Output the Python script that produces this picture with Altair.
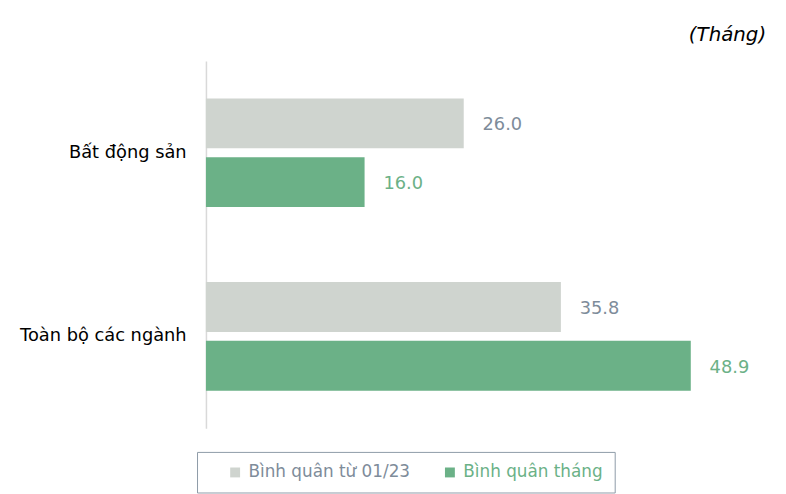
import altair as alt
import pandas as pd

categories = ["Bất động sản", "Toàn bộ các ngành"]
series = ["Bình quân từ 01/23", "Bình quân tháng"]
values_since_0123 = [26.0, 35.8]
values_month = [16.0, 48.9]
colors = ["#cfd4cf", "#6bb187"]
label_colors = ["#7e8c9a", "#6bb187"]

rows = []
for i, c in enumerate(categories):
    rows.append({"cat": c, "series": series[0], "value": values_since_0123[i], "lc": label_colors[0]})
    rows.append({"cat": c, "series": series[1], "value": values_month[i], "lc": label_colors[1]})
df = pd.DataFrame(rows)

FONT = "DejaVu Sans"

y = alt.Y("cat:N", sort=categories, title=None,
          scale=alt.Scale(paddingInner=0.408, paddingOuter=0.204),
          axis=alt.Axis(labelFontSize=18, labelColor="#000000", labelFont=FONT,
                        labelPadding=20, ticks=False, domainColor="#d9d9d9",
                        domainWidth=1.5, labelLimit=300))
yoff = alt.YOffset("series:N", sort=series,
                   scale=alt.Scale(paddingInner=0.1525, paddingOuter=0))
x = alt.X("value:Q", scale=alt.Scale(domain=[0, 55.8]), axis=None)

legend_fill = ("datum.label == '" + series[1] + "' ? '" + label_colors[1] + "' : '" + label_colors[0] + "'")

bars = alt.Chart(df).mark_bar().encode(
    y=y, yOffset=yoff, x=x,
    color=alt.Color("series:N", sort=series,
                    scale=alt.Scale(domain=series, range=colors),
                    legend=alt.Legend(title=None, orient="none", legendX=-9, legendY=395,
                                      direction="horizontal", symbolType="square",
                                      symbolSize=100, symbolStrokeWidth=0,
                                      labelFontSize=17, labelFont=FONT, labelLimit=400,
                                      labelOffset=5, columnPadding=13,
                                      padding=12, symbolOffset=18,
                                      strokeColor="#8e9ba7",
                                      labelColor=alt.ExprRef(legend_fill))),
)

labels = alt.Chart(df).mark_text(align="left", baseline="middle", dx=19, dy=2,
                                 fontSize=18, font=FONT).encode(
    y=y, yOffset=yoff, x=x,
    text=alt.Text("value:Q", format=".1f"),
    color=alt.Color("lc:N", scale=None),
)

chart = (bars + labels).properties(
    width=559, height=371,
    title=alt.TitleParams("(Tháng)", anchor="end", fontStyle="italic", fontWeight="normal",
                          fontSize=20, font=FONT, color="#000000", offset=16, dx=7),
    autosize=alt.AutoSizeParams(type="none"),
    padding={"left": 200, "top": 51, "right": 19, "bottom": 64},
).configure_view(stroke=None)

chart.save("out.html", embed_options={"renderer": "svg", "actions": False})
